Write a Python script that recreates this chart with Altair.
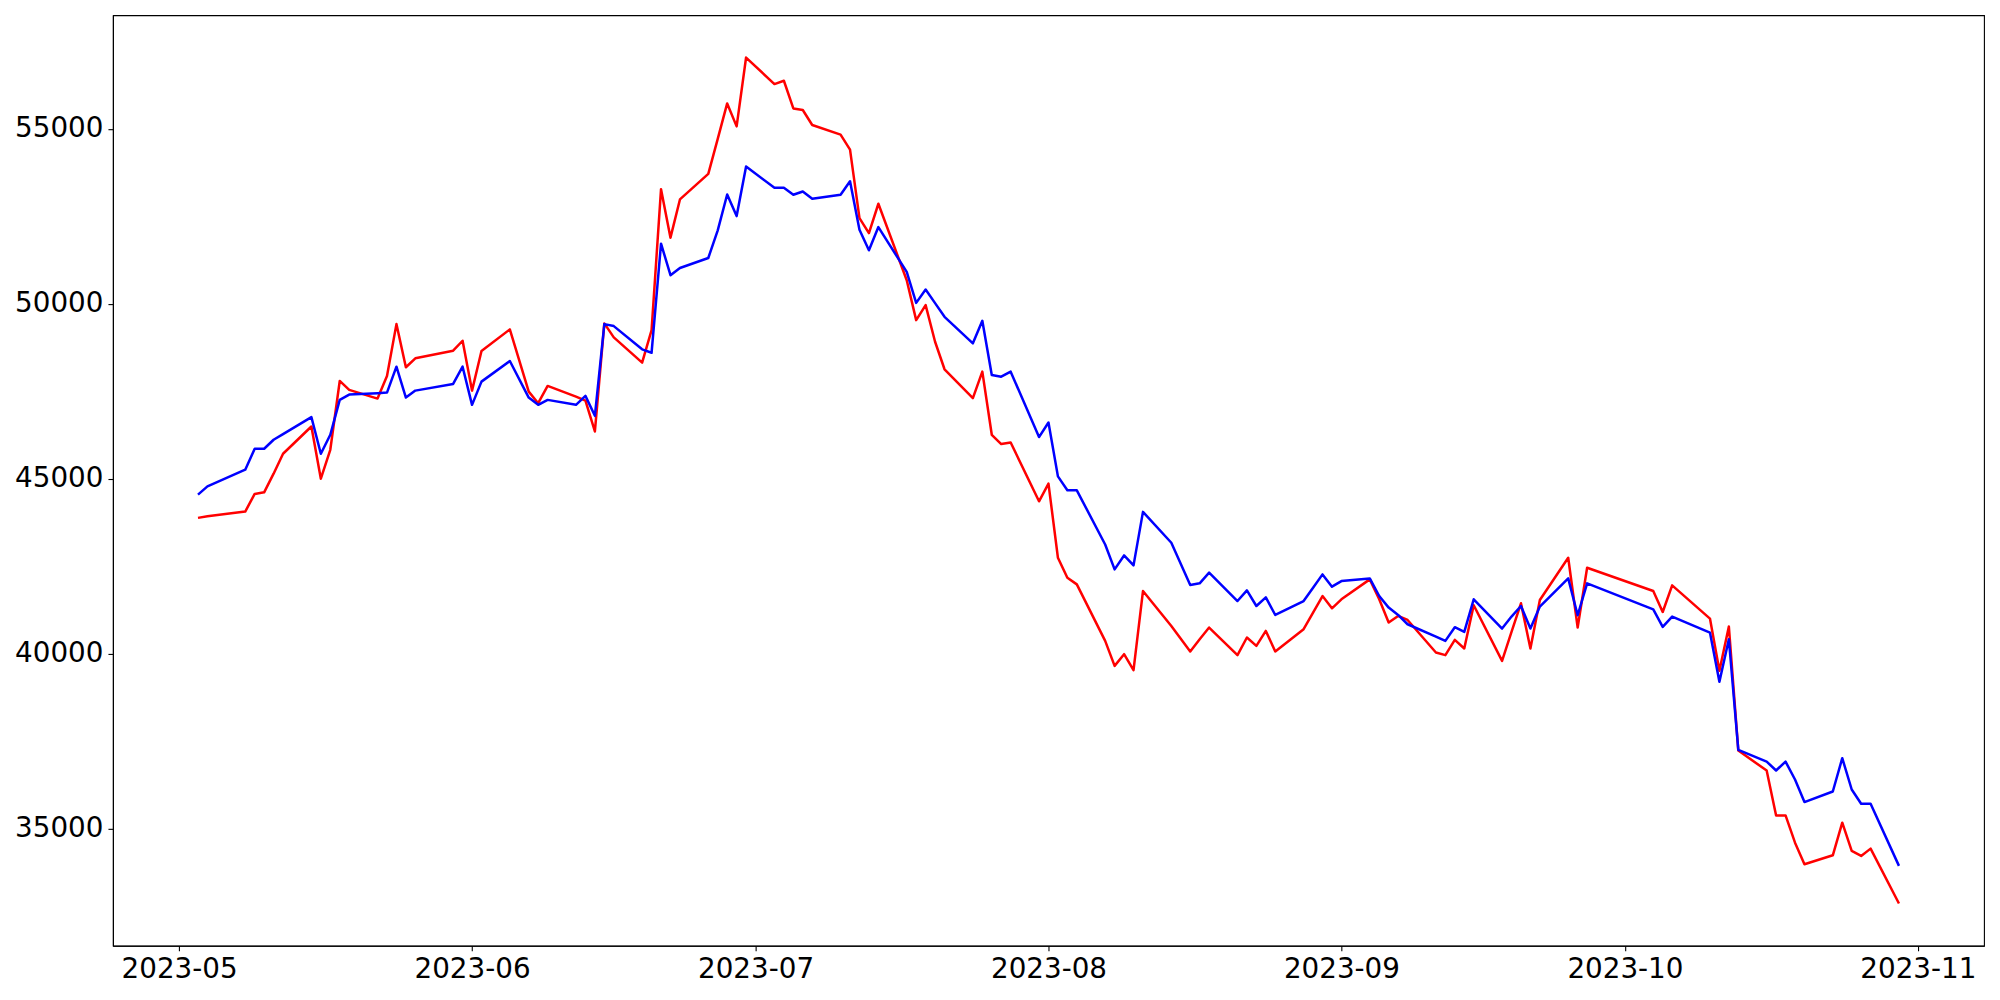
import altair as alt
import pandas as pd

# Korean trading days, 2023-05-03 .. 2023-10-30
dates = [
    "2023-05-03", "2023-05-04", "2023-05-08", "2023-05-09", "2023-05-10", "2023-05-11", "2023-05-12",
    "2023-05-15", "2023-05-16", "2023-05-17", "2023-05-18", "2023-05-19", "2023-05-22", "2023-05-23",
    "2023-05-24", "2023-05-25", "2023-05-26", "2023-05-30", "2023-05-31",
    "2023-06-01", "2023-06-02", "2023-06-05", "2023-06-07", "2023-06-08", "2023-06-09", "2023-06-12",
    "2023-06-13", "2023-06-14", "2023-06-15", "2023-06-16", "2023-06-19", "2023-06-20", "2023-06-21",
    "2023-06-22", "2023-06-23", "2023-06-26", "2023-06-27", "2023-06-28", "2023-06-29", "2023-06-30",
    "2023-07-03", "2023-07-04", "2023-07-05", "2023-07-06", "2023-07-07", "2023-07-10", "2023-07-11",
    "2023-07-12", "2023-07-13", "2023-07-14", "2023-07-17", "2023-07-18", "2023-07-19", "2023-07-20",
    "2023-07-21", "2023-07-24", "2023-07-25", "2023-07-26", "2023-07-27", "2023-07-28", "2023-07-31",
    "2023-08-01", "2023-08-02", "2023-08-03", "2023-08-04", "2023-08-07", "2023-08-08", "2023-08-09",
    "2023-08-10", "2023-08-11", "2023-08-14", "2023-08-16", "2023-08-17", "2023-08-18", "2023-08-21",
    "2023-08-22", "2023-08-23", "2023-08-24", "2023-08-25", "2023-08-28", "2023-08-29", "2023-08-30",
    "2023-08-31",
    "2023-09-01", "2023-09-04", "2023-09-05", "2023-09-06", "2023-09-07", "2023-09-08", "2023-09-11",
    "2023-09-12", "2023-09-13", "2023-09-14", "2023-09-15", "2023-09-18", "2023-09-19", "2023-09-20",
    "2023-09-21", "2023-09-22", "2023-09-25", "2023-09-26", "2023-09-27",
    "2023-10-04", "2023-10-05", "2023-10-06", "2023-10-10", "2023-10-11", "2023-10-12", "2023-10-13",
    "2023-10-16", "2023-10-17", "2023-10-18", "2023-10-19", "2023-10-20", "2023-10-23", "2023-10-24",
    "2023-10-25", "2023-10-26", "2023-10-27", "2023-10-30",
]

red_values = [
    43884, 43930, 44064, 44568, 44614, 45147, 45717, 46495, 45004, 45830, 47797, 47541, 47293, 47940,
    49422, 48188, 48444, 48661, 48946,
    47521, 48653, 49271, 47493, 47162, 47655, 47350, 47236, 46353, 49442, 49043, 48319, 49251, 53279,
    51893, 52985, 53717, 54715, 55730, 55074, 57041,
    56283, 56377, 55587, 55542, 55114, 54838, 54410, 52452, 52024, 52862, 50676, 49536, 49964, 48918,
    48131, 47304, 48063, 46258, 45993, 46039, 44357,
    44862, 42744, 42174, 41983, 40367, 39654, 39988, 39532, 41792, 40795, 40065, 40416, 40749, 39960,
    40464, 40225, 40652, 40065, 40701, 41176, 41650, 41299,
    41556, 42126, 41556, 40892, 41080, 40966, 40036, 39960, 40396, 40150, 41385, 39797, 40624, 41442,
    40150, 41536, 42744, 40749, 42459,
    41792, 41194, 41955, 41005, 39512, 40778, 37232, 36662, 35379, 35379, 34601, 33983, 34239, 35171,
    34365, 34222, 34430, 32862,
]

blue_values = [
    44548, 44785, 45261, 45859, 45859, 46116, 46278, 46763, 45717, 46258, 47256, 47407, 47447, 47464,
    48205, 47322, 47521, 47712, 48205,
    47114, 47778, 48368, 47322, 47114, 47256, 47114, 47370, 46800, 49422, 49365, 48701, 48604, 51722,
    50819, 51027, 51312, 52101, 53127, 52509, 53925,
    53318, 53318, 53119, 53213, 53005, 53119, 53506, 52121, 51531, 52195, 50913, 50029, 50411, 50021,
    49630, 48872, 49516, 47969, 47920, 48063, 46193,
    46609, 45070, 44671, 44671, 43123, 42411, 42810, 42525, 44055, 43172, 41963, 42012, 42317, 41507,
    41812, 41365, 41613, 41108, 41507, 41889, 42268, 41918,
    42077, 42154, 41650, 41319, 41108, 40843, 40492, 40367, 40758, 40624, 41556, 40720, 41063, 41365,
    40720, 41348, 42154, 41100, 42012,
    41270, 40766, 41063, 40606, 39199, 40416, 37252, 36918, 36662, 36918, 36405, 35761, 36063, 37015,
    36120, 35713, 35713, 33937,
]

y_ticks = [35000, 40000, 45000, 50000, 55000]
x_tick_months = [5, 6, 7, 8, 9, 10, 11]

rows = []
for d, r, b in zip(dates, red_values, blue_values):
    rows.append({"date": d, "series": "red", "value": r})
    rows.append({"date": d, "series": "blue", "value": b})
df = pd.DataFrame(rows)

lo = min(min(red_values), min(blue_values))
hi = max(max(red_values), max(blue_values))
pad = 0.05 * (hi - lo)

x_enc = alt.X(
    "date:T",
    scale=alt.Scale(
        type="utc",
        nice=False,
        domain=[
            alt.DateTime(year=2023, month=4, date=24, utc=True),
            alt.DateTime(year=2023, month=11, date=8, utc=True),
        ],
    ),
    axis=alt.Axis(
        values=[alt.DateTime(year=2023, month=m, date=1, utc=True) for m in x_tick_months],
        format="%Y-%m",
        title=None,
        grid=False,
        labelFlush=False,
        labelOverlap=False,
    ),
)
y_enc = alt.Y(
    "value:Q",
    scale=alt.Scale(domain=[lo - pad, hi + pad], nice=False, zero=False),
    axis=alt.Axis(values=y_ticks, format="d", title=None, grid=False, labelOverlap=False),
)

base = alt.Chart(df)
red_line = base.transform_filter(alt.datum.series == "red").mark_line(
    color="#ff0000", strokeWidth=2.5, strokeJoin="round"
).encode(x=x_enc, y=y_enc)
blue_line = base.transform_filter(alt.datum.series == "blue").mark_line(
    color="#0000ff", strokeWidth=2.5, strokeJoin="round"
).encode(x=x_enc, y=y_enc)

chart = (
    alt.layer(red_line, blue_line)
    .properties(
        width=1872,
        height=931,
        autosize=alt.AutoSizeParams(type="none"),
        padding={"left": 105, "top": 7, "right": 8, "bottom": 44},
        background="white",
    )
    .configure_view(stroke="black", strokeWidth=1.1)
    .configure_axis(
        labelFont="DejaVu Sans",
        labelFontSize=27.8,
        labelColor="black",
        tickColor="black",
        tickSize=5,
        tickWidth=1.1,
        labelPadding=5,
        domainColor="black",
        domainWidth=1.1,
    )
)

chart.save("out.html", embed_options={"renderer": "svg", "actions": False})
